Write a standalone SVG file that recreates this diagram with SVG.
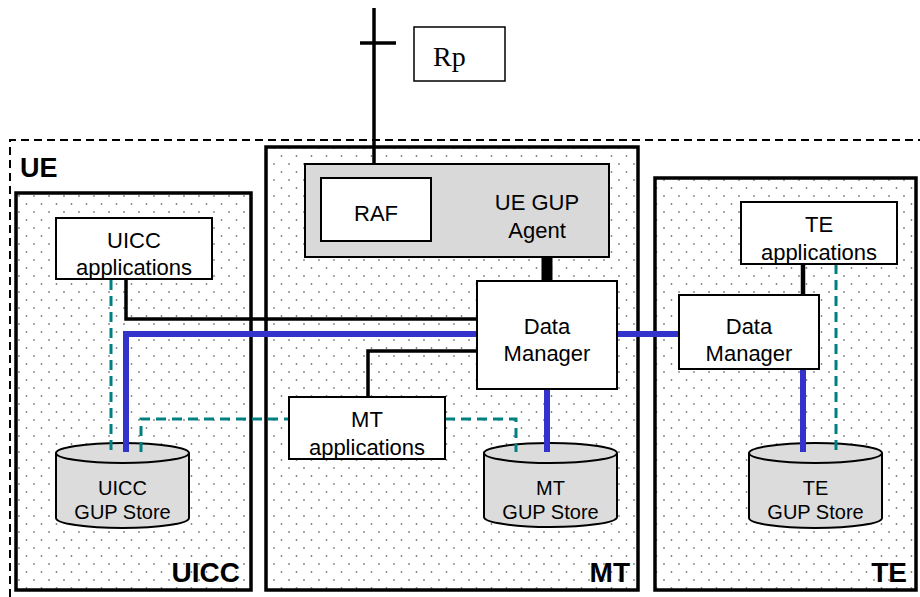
<svg xmlns="http://www.w3.org/2000/svg" width="920" height="597" viewBox="0 0 920 597">
<defs>
<pattern id="dots" width="15" height="16" patternUnits="userSpaceOnUse">
<rect width="15" height="16" fill="#ffffff"/>
<circle cx="4" cy="4" r="0.9" fill="#808080"/>
<circle cx="11.5" cy="12" r="0.9" fill="#808080"/>
</pattern>
<style>
.cont{fill:url(#dots);stroke:#000;stroke-width:3.5}
.box{fill:#fff;stroke:#000;stroke-width:2}
.gray{fill:#d9d9d9;stroke:#000;stroke-width:2}
.cyl{fill:#dcdcdc;stroke:#000;stroke-width:2}
.t{font-family:"Liberation Sans",Arial,sans-serif;font-size:22px;fill:#000;text-anchor:middle}
.ts{font-family:"Liberation Sans",Arial,sans-serif;font-size:20px;fill:#000;text-anchor:middle}
.lbl{font-family:"Liberation Sans",Arial,sans-serif;font-size:28px;font-weight:bold;fill:#000;text-anchor:end}
.blk{fill:none;stroke:#000;stroke-width:3.5}
.blue{fill:none;stroke:#3333cc;stroke-width:6}
.teal{fill:none;stroke:#008080;stroke-width:3;stroke-dasharray:10 6}
</style>
</defs>
<rect width="920" height="597" fill="#fff"/>
<g id="ue">
<path d="M10 597 V140 H920" fill="none" stroke="#000" stroke-width="2" stroke-dasharray="8 5"/>
<text x="20" y="177" class="lbl" style="text-anchor:start;font-size:27px">UE</text>
</g>
<g id="uicc">
<rect x="16" y="193" width="235" height="397" class="cont"/>
<text x="240" y="582" class="lbl">UICC</text>
</g>
<g id="mt">
<rect x="266" y="147" width="372" height="443" class="cont"/>
<text x="630" y="582" class="lbl">MT</text>
</g>
<g id="te">
<rect x="655" y="178" width="261" height="412" class="cont"/>
<text x="907" y="582" class="lbl">TE</text>
</g>
<g id="uicc-store">
<path d="M56 453 V518 A66.5 10 0 0 0 189 518 V453" class="cyl"/>
<ellipse cx="122.5" cy="453" rx="66.5" ry="10" class="cyl"/>
<text x="122.5" y="495" class="ts">UICC</text>
<text x="122.5" y="519" class="ts">GUP Store</text>
</g>
<g id="mt-store">
<path d="M484 453 V517 A66.5 10 0 0 0 617 517 V453" class="cyl"/>
<ellipse cx="550.5" cy="453" rx="66.5" ry="10" class="cyl"/>
<text x="550.5" y="495" class="ts">MT</text>
<text x="550.5" y="519" class="ts">GUP Store</text>
</g>
<g id="te-store">
<path d="M749 453 V518 A66.5 10 0 0 0 882 518 V453" class="cyl"/>
<ellipse cx="815.5" cy="453" rx="66.5" ry="10" class="cyl"/>
<text x="815.5" y="495" class="ts">TE</text>
<text x="815.5" y="519" class="ts">GUP Store</text>
</g>
<g id="connectors">
<path d="M374 8 V178" class="blk" stroke-width="4"/>
<path d="M360 43 H396" class="blk" stroke-width="3"/>
<path d="M126 280 V319 H477" class="blk"/>
<path d="M368 397 V351 H477" class="blk"/>
<path d="M547 257 V281" fill="none" stroke="#000" stroke-width="11"/>
<path d="M803 264 V295" fill="none" stroke="#000" stroke-width="4.5"/>
<path d="M126 452 V334 H477" class="blue"/>
<path d="M617 334 H679" class="blue"/>
<path d="M547 389 V452" class="blue"/>
<path d="M803 369 V452" class="blue"/>
<path d="M111 280 V452" class="teal"/>
<path d="M141 452 V419 H289" class="teal"/>
<path d="M445 419 H516 V452" class="teal"/>
<path d="M836 264 V451" class="teal"/>
</g>
<g id="rp">
<rect x="414" y="27" width="91" height="54" fill="#fff" stroke="#000" stroke-width="1.5"/>
<text x="433" y="66" style="font-family:'Liberation Serif','Times New Roman',serif;font-size:28px">Rp</text>
</g>
<g id="agent">
<rect x="305" y="164" width="304" height="93" class="gray"/>
<text x="537" y="210" class="t">UE GUP</text>
<text x="537" y="238" class="t">Agent</text>
</g>
<g id="raf">
<rect x="321" y="178" width="110" height="63" class="box"/>
<text x="376" y="221" class="t">RAF</text>
</g>
<g id="uicc-apps">
<rect x="56" y="218" width="156" height="61" class="box"/>
<text x="134" y="248" class="t">UICC</text>
<text x="134" y="275" class="t">applications</text>
</g>
<g id="mt-dm">
<rect x="477" y="281" width="140" height="108" class="box"/>
<text x="547" y="334" class="t">Data</text>
<text x="547" y="361" class="t">Manager</text>
</g>
<g id="mt-apps">
<rect x="289" y="397" width="156" height="62" class="box"/>
<text x="367" y="427" class="t">MT</text>
<text x="367" y="455" class="t">applications</text>
</g>
<g id="te-apps">
<rect x="741" y="202" width="156" height="62" class="box"/>
<text x="819" y="232" class="t">TE</text>
<text x="819" y="260" class="t">applications</text>
</g>
<g id="te-dm">
<rect x="679" y="295" width="140" height="74" class="box"/>
<text x="749" y="334" class="t">Data</text>
<text x="749" y="361" class="t">Manager</text>
</g>
</svg>
